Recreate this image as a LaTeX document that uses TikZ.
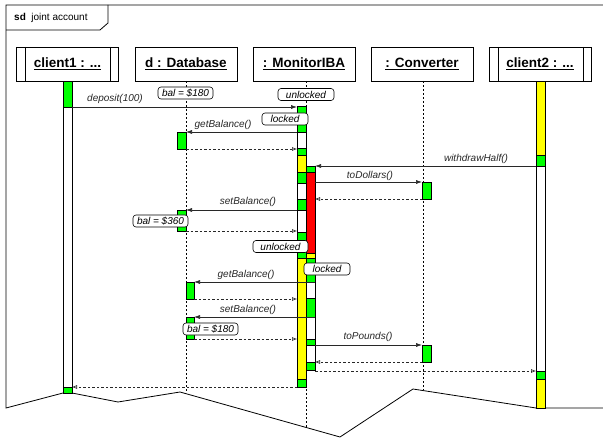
\documentclass[tikz,border=0pt]{standalone}
\usepackage{fontspec}
\setmainfont{Liberation Sans}
\usetikzlibrary{arrows.meta}
\definecolor{lgreen}{RGB}{0,255,0}
\definecolor{lyellow}{RGB}{255,255,0}
\definecolor{lred}{RGB}{255,0,0}
\definecolor{msgline}{RGB}{40,40,40}
\newcommand\barseg[5]{\path[bar,fill=#5] (#1,#3) rectangle (#2,#4);}
\begin{document}
\begin{tikzpicture}[x=1pt,y=-1pt,
  frame/.style={line width=0.8pt},
  head/.style={draw, line width=0.7pt, minimum width=102pt, minimum height=34pt, inner sep=0pt, font=\fontsize{13.5}{15}\selectfont\bfseries},
  bar/.style={draw, line width=0.6pt},
  call/.style={draw=msgline, line width=0.6pt, -{Latex[length=6pt,width=4pt]}},
  ret/.style={draw=msgline, line width=0.6pt, dash pattern=on 2.5pt off 2pt, -{Latex[open,length=5pt,width=4pt]}},
  msg/.style={font=\fontsize{10}{12}\selectfont\itshape, inner sep=0pt, text=msgline},
  state/.style={draw, rounded corners=3pt, fill=white, line width=0.6pt, minimum height=12pt, inner sep=0pt, font=\fontsize{10}{12}\selectfont\itshape},
  life/.style={line width=0.6pt, dash pattern=on 2pt off 2pt}
]
\useasboundingbox (0,0) rectangle (603,441);
\fill[white] (0,0) rectangle (603,441);

% frame
\draw[frame] (603,5) -- (6,5) -- (6,408) -- (63,393) -- (72,393) -- (118,402) -- (180,392) -- (340,437) -- (413,389) -- (536,408) -- (603,408);
\draw[frame] (6,30) -- (100,30) -- (108,23) -- (108,5);
\node[anchor=west, inner sep=0pt, font=\fontsize{10}{12}\selectfont] (title) at (14,18) {\textbf{sd}\ \ joint account};

% heads
\node[head] (h1) at (67.5,64) {\underline{client1 : ...}};
\node[head] (h2) at (186,64) {\underline{d : Database}};
\node[head] (h3) at (304,64) {\underline{: MonitorIBA}};
\node[head] (h4) at (422,64) {\underline{: Converter}};
\node[head] (h5) at (540,64) {\underline{client2 : ...}};
\draw[line width=0.7pt] (25,47) -- (25,81) (110,47) -- (110,81);
\draw[line width=0.7pt] (498,47) -- (498,81) (583,47) -- (583,81);

% lifelines
\coordinate (l2s) at (186,81); \coordinate (l2e) at (186,393);
\coordinate (l3s) at (306,81); \coordinate (l3e) at (306,427);
\coordinate (l4s) at (423,81); \coordinate (l4e) at (423,390);
\draw[life] (l2s) -- (l2e);
\draw[life] (l3s) -- (l3e);
\draw[life] (l4s) -- (l4e);

% client1 bar
\barseg{63}{72}{81}{107}{lgreen}
\barseg{63}{72}{107}{387}{white}
\barseg{63}{72}{387}{393}{lgreen}
% database bars
\barseg{177}{186}{132}{149}{lgreen}
\barseg{177}{186}{210}{231}{lgreen}
\barseg{186}{194}{282}{299}{lgreen}
\barseg{186}{194}{317}{339}{lgreen}
% monitor bar 1
\barseg{297}{306}{106}{132}{lgreen}
\barseg{297}{306}{132}{148}{white}
\barseg{297}{306}{148}{155}{lgreen}
\barseg{297}{306}{155}{172}{lyellow}
\barseg{297}{306}{172}{183}{lgreen}
\barseg{297}{306}{183}{199}{white}
\barseg{297}{306}{199}{210}{lgreen}
\barseg{297}{306}{210}{232}{white}
\barseg{297}{306}{232}{258}{lgreen}
\barseg{297}{306}{258}{379}{lyellow}
\barseg{297}{306}{379}{387}{lgreen}
% monitor bar 2
\barseg{306}{315}{166}{172}{lgreen}
\barseg{306}{315}{172}{253}{lred}
\barseg{306}{315}{253}{258}{lyellow}
\barseg{306}{315}{258}{282}{lgreen}
\barseg{306}{315}{282}{298}{white}
\barseg{306}{315}{298}{317}{lgreen}
\barseg{306}{315}{317}{339}{white}
\barseg{306}{315}{339}{345}{lgreen}
\barseg{306}{315}{345}{362}{white}
\barseg{306}{315}{362}{370}{lgreen}
% converter bars
\barseg{422}{431}{182}{199}{lgreen}
\barseg{422}{431}{345}{362}{lgreen}
% client2 bar
\barseg{536}{545}{81}{155}{lyellow}
\barseg{536}{545}{155}{166}{lgreen}
\barseg{536}{545}{166}{371}{white}
\barseg{536}{545}{371}{379}{lgreen}
\barseg{536}{545}{379}{408}{lyellow}

% message end points
\coordinate (c1a) at (72,107);  \coordinate (m3a) at (297,107);
\coordinate (m3b) at (297,132); \coordinate (d1a) at (186,132);
\coordinate (d1b) at (186,149); \coordinate (m3c) at (297,149);
\coordinate (c2a) at (536,166); \coordinate (m4a) at (315,166);
\coordinate (m4b) at (315,182); \coordinate (v1a) at (422,182);
\coordinate (v1b) at (422,199); \coordinate (m4c) at (315,199);
\coordinate (m3d) at (297,210); \coordinate (d2a) at (186,210);
\coordinate (d2b) at (186,231); \coordinate (m3e) at (297,231);
\coordinate (m4d) at (315,282); \coordinate (d3a) at (194,282);
\coordinate (d3b) at (194,299); \coordinate (m3f) at (297,299);
\coordinate (m4e) at (315,317); \coordinate (d4a) at (194,317);
\coordinate (d4b) at (194,339); \coordinate (m3g) at (297,339);
\coordinate (m4f) at (315,345); \coordinate (v2a) at (422,345);
\coordinate (v2b) at (422,362); \coordinate (m4g) at (315,362);
\coordinate (m4h) at (315,371); \coordinate (c2b) at (536,371);
\coordinate (m3h) at (297,387); \coordinate (c1b) at (72,387);

% messages
\draw[call] (c1a) -- (m3a);
\draw[call] (m3b) -- (d1a);
\draw[ret]  (d1b) -- (m3c);
\draw[call] (c2a) -- (m4a);
\draw[call] (m4b) -- (v1a);
\draw[ret]  (v1b) -- (m4c);
\draw[call] (m3d) -- (d2a);
\draw[ret]  (d2b) -- (m3e);
\draw[call] (m4d) -- (d3a);
\draw[ret]  (d3b) -- (m3f);
\draw[call] (m4e) -- (d4a);
\draw[ret]  (d4b) -- (m3g);
\draw[call] (m4f) -- (v2a);
\draw[ret]  (v2b) -- (m4g);
\draw[ret]  (m4h) -- (c2b);
\draw[ret]  (m3h) -- (c1b);

% message labels
\node[msg] (t1) at (115,99) {deposit(100)};
\node[msg] (t2) at (223,125) {getBalance()};
\node[msg] (t3) at (476,159) {withdrawHalf()};
\node[msg] (t4) at (370,176) {toDollars()};
\node[msg] (t5) at (248,202) {setBalance()};
\node[msg] (t6) at (246,275) {getBalance()};
\node[msg] (t7) at (248,310) {setBalance()};
\node[msg] (t8) at (368,337) {toPounds()};

% state labels
\node[state, minimum width=55pt] (s1) at (185.5,93) {bal = \$180};
\node[state, minimum width=56pt] (s2) at (306,94.5) {unlocked};
\node[state, minimum width=46pt] (s3) at (285,119) {locked};
\node[state, minimum width=55pt] (s4) at (160.5,221) {bal = \$360};
\node[state, minimum width=55pt] (s5) at (280.5,246.5) {unlocked};
\node[state, minimum width=46pt] (s6) at (327,269) {locked};
\node[state, minimum width=55pt] (s7) at (210.5,329) {bal = \$180};
\end{tikzpicture}
\end{document}
